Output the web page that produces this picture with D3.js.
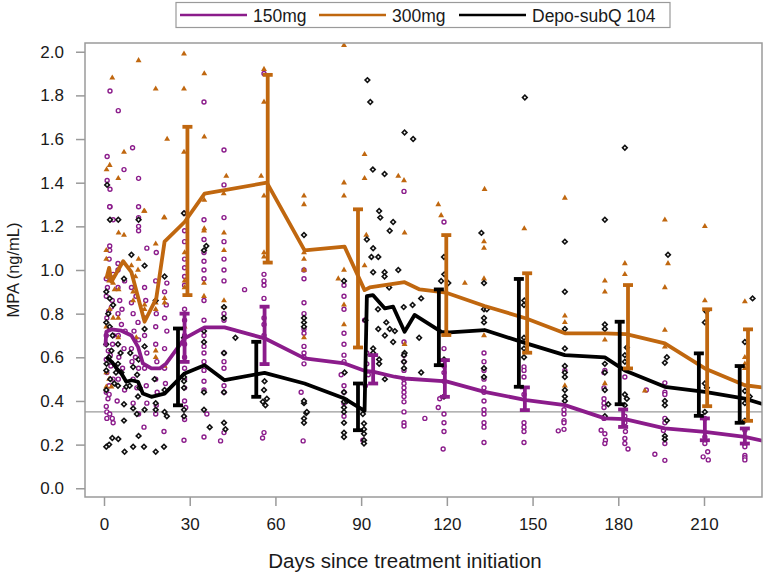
<!DOCTYPE html>
<html>
<head>
<meta charset="utf-8">
<script src="https://cdnjs.cloudflare.com/ajax/libs/d3/7.8.5/d3.min.js"></script>
<style>
  body { margin: 0; background: #fff; }
  svg text { font-family: "Liberation Sans", Arial, Helvetica, sans-serif; fill: #1a1a1a; }
</style>
</head>
<body>
<svg id="chart" width="767" height="573"></svg>
<script>
// ---- data (day, MPA ng/mL) ----
const groups = ["150mg", "300mg", "Depo-subQ 104"]
const colors = ["#8b1c8b", "#c0670f", "#000000"]
const xTicks = [0, 30, 60, 90, 120, 150, 180, 210]
const yTicks = [0, 0.2, 0.4, 0.6, 0.8, 1.0, 1.2, 1.4, 1.6, 1.8, 2.0]
const lloq = 0.35

const pts150 = [[2.1,1.82],[5,1.73],[10,1.56],[1.1,1.52],[7,1.46],[1.1,1.41],[12.1,1.42],[2.1,1.37],[2.1,1.29],[3.2,1.23],[12.1,1.20],
  [2,1.29],[2,1.11],[2,1.09],[1.8,1.05],[3.2,0.98],[4.9,1.03],[4.9,1.0],[7.2,0.95],[9.6,0.92],[12.1,1.29],[12.1,1.24],[12.1,1.18],[15,1.10],[18.3,1.08],[22,0.94],
  [0.8,0.96],[1.2,0.92],[0.8,0.88],[2.6,0.83],[1.0,0.78],[2.0,0.73],[0.8,0.70],[3.0,0.66],[1.5,0.63],[0.8,0.59],[2.4,0.56],[1.0,0.53],[3.2,0.50],[1.8,0.47],[0.8,0.44],[1.8,0.43],[0.8,0.375],[1,0.35],[1,0.32],[2,0.34],[2.9,0.32],[3.2,0.30],
  [2.9,0.86],[1.6,0.81],[3.3,0.70],[2.2,0.61],[1.4,0.41],
  [4.9,0.92],[5.5,0.86],[4.9,0.80],[6.1,0.75],[5.0,0.70],[7.0,0.64],[5.2,0.60],[6.5,0.55],[5.0,0.50],[7.2,0.45],[6.3,0.82],[7.4,0.72],[4.6,0.40],
  [9.6,0.85],[10.2,0.80],[11.9,0.76],[10.5,0.72],[12.1,0.68],[9.6,0.64],[11,0.60],[12.1,0.55],[10.2,0.50],[11.5,0.46],[10.2,0.39],[12.1,0.34],[9.8,0.58],[11.2,0.88],
  [14.2,0.92],[14.6,0.86],[14.2,0.78],[14.2,0.70],[15,0.62],[14.2,0.55],[15,0.39],[14,0.28],[14.8,0.47],
  [18.1,0.95],[18.3,0.80],[18.1,0.74],[18.1,0.66],[18.5,0.58],[18.1,0.50],[18.1,0.34],[18.3,0.38],[18.6,0.44],
  [21.2,0.90],[21.8,0.84],[21.2,0.78],[22,0.72],[21.2,0.64],[21.2,0.55],[21,0.26],[21.5,0.48],
  [28.2,1.26],[28.2,1.18],[28.2,1.13],[28.2,1.05],[28.2,1.01],[28.2,0.97],[28.2,0.93],[28.2,0.82],[28.2,0.77],[28.2,0.70],[28.2,0.66],[28.2,0.60],[28.2,0.55],[28.2,0.50],[28.2,0.46],[28.2,0.40],[28.6,0.37],[28.2,0.315],[28,0.22],
  [35,1.77],[35,1.23],[35,1.14],[35,1.08],[35,1.04],[35,1.00],[35,0.96],[35,0.86],[35,0.77],[35,0.70],[35,0.65],[35,0.62],[35,0.58],[35,0.54],[35,0.49],[35,0.45],[36,0.34],[35,0.235],
  [42,1.55],[42,1.39],[42,1.24],[42,1.13],[42,1.05],[42,1.00],[42,0.95],[42,0.80],[42,0.77],[42,0.62],[42,0.58],[42,0.55],[42,0.47],[42,0.44],[40.8,0.217],[42,0.255],
  [49.2,0.91],
  [56,1.90],[56,0.98],[56,0.95],[56,0.93],[56,0.87],[56,0.78],[56,0.75],[56,0.70],[56,0.255],[55.5,0.23],
  [70,1.00],[70,0.96],[70,0.85],[70,0.80],[70,0.73],[70,0.71],[70,0.65],[70,0.62],[70,0.60],[70,0.57],[69,0.44],[69.7,0.217],
  [84,0.93],[84,0.88],[84,0.82],[84,0.71],[84,0.66],[84,0.61],[84,0.58],[83,0.52],[84,0.47],[84,0.44],[84,0.39],[84,0.33],
  [91.2,0.77],[92,0.62],[92,0.57],[92.5,0.52],[91.5,0.47],[90.6,0.22],
  [105,1.36],[105,0.67],[105,0.61],[105,0.58],[105,0.54],[105,0.50],[105,0.48],[105,0.46],[105,0.44],[105,0.42],[105,0.396],[105,0.35],[105,0.30],[105,0.285],
  [112.3,0.32],[117,0.37],
  [119,1.22],[119,0.64],[119,0.56],[119,0.53],[119,0.49],[119,0.42],[117.5,0.41],[119,0.34],[119,0.30],[119,0.26],[118.7,0.18],
  [133,0.62],[133,0.58],[133,0.54],[133,0.50],[133,0.46],[133,0.44],[133,0.40],[133,0.36],[133,0.34],[133,0.30],[133,0.28],[133,0.21],
  [147,0.556],[147,0.54],[147,0.51],[147,0.43],[147,0.30],[147,0.28],[147,0.26],[147,0.21],
  [161.3,0.54],[161,0.36],[161,0.34],[161,0.31],[161,0.30],[161,0.27],[159,0.263],
  [175.3,0.54],[175,0.53],[175,0.46],[175,0.41],[175,0.39],[175,0.37],[175,0.32],[174,0.266],[175.3,0.25],[175.5,0.22],[175.3,0.205],
  [182.3,0.51],[182.3,0.33],[182.3,0.30],[182.5,0.26],[182.3,0.228],[182.3,0.205],[183.4,0.18],
  [189.8,0.45],[192.8,0.156],
  [196.3,0.483],[196.3,0.44],[196.3,0.43],[196.3,0.32],[196.3,0.30],[195.8,0.265],[196.3,0.205],[196.3,0.128],
  [210.3,0.32],[210.3,0.235],[210.3,0.205],[209.7,0.144],[211.5,0.13],[211.3,0.167],
  [224.3,0.266],[224.3,0.20],[224.3,0.19],[224.3,0.15],[224.3,0.14],[224.3,0.13]]

const pts300 = [[2.9,1.88],[12.1,1.96],[28,1.99],[18.1,1.83],[28,1.83],[35.1,1.90],[22.1,1.60],[35.1,1.61],[7,1.54],[2,1.48],[0.9,1.46],[5,1.42],[28,1.54],[42.8,1.43],[41.9,1.35],[14,1.27],[21,1.24],[35.1,1.32],[35.1,1.19],
  [0.8,1.05],[0.8,1.09],[5.1,1.17],[7,1.16],[12.1,1.05],[14.2,1.27],[18.1,1.12],[21.2,1.24],[35,1.18],[42,1.17],[42,1.09],[42,0.86],[42,0.83],[35,0.88],[35,0.94],[28.2,0.95],[28.2,0.92],[28.2,0.74],[28.2,1.08],[1.8,0.95],[3.2,0.94],[3.7,0.91],[5.1,0.91],[2,0.82],[3.2,0.78],[5,0.78],[9.6,1.02],[11.9,1.0],[10.2,0.90],[10.2,0.86],[11,0.97],[14.2,0.84],[14.2,0.82],[18.1,0.85],[18.1,0.82],[21.2,0.87],[21.2,0.85],[18.1,0.63],[18.1,0.60],[21.2,0.56],[11.3,0.69],[5,0.69],[0.8,0.74],[0.8,0.53],[1.8,0.50],[0.8,0.465],[2.6,0.465],
  [84,2.03],[56,1.92],[56,1.77],[55,1.43],[56,1.34],[70,1.34],[70,1.30],[84,1.40],[84,1.34],[91.2,1.53],[91.2,1.42],[103,1.43],[105,1.41],[117,1.30],[118,1.25],
  [56,1.08],[56,1.06],[70,1.08],[70,1.05],[70,1.0],[70,0.69],[84,1.0],[82,0.96],[84,0.84],[84,0.75],[91.8,1.16],[91.2,1.02],[105.2,1.17],[105.2,0.66],
  [133.2,1.37],[161.3,1.33],[147.1,1.19],[133,1.13],[133,1.10],[182.3,1.03],[182.3,0.98],[133,0.96],[126.3,0.94],[175.3,0.95],[175.3,0.90],[175.3,0.68],[161.3,0.79],[161.3,0.76],[161.3,0.47],[133,0.70],[196.3,0.92],[196.3,0.725],[196.3,0.648],[175.3,0.48],[189.3,0.446],[210.3,0.86],[224.3,0.855],[224.3,0.60],[224.3,0.57],[224.3,0.55],[197.4,1.03],[196.3,1.23],[210.3,1.20]]

const ptsQ = [[1.1,1.39],[2.1,1.23],[5,1.23],[12.1,1.23],[28,1.26],
  [9.6,1.07],[7,0.96],[0.8,0.90],[2,0.87],[3.2,0.84],[0.8,0.76],[2,0.74],[0.8,0.66],[4.9,0.66],[1.8,0.60],[4.9,0.57],[6.1,0.53],[0.8,0.54],[2.2,0.50],[7.8,0.465],[10.2,0.556],[12.1,0.59],[14.2,0.65],[14.2,0.73],[14.2,1.02],[18.1,0.86],[21.2,0.97],[17.7,0.50],[21.2,0.45],[35.8,1.11],[35,1.09],[42,0.83],[42,0.78],[42,0.62],[35,0.72],[35,0.67],[35,0.44],[42,0.44],[28,0.69],[28,0.51],[28,0.49],[28,0.46],[46,0.69],
  [1.5,0.80],[3.0,0.70],[2.6,0.63],[0.9,0.57],[5.8,0.62],[4.2,0.53],[9.2,0.62],[11.6,0.52],[12.4,0.46],[3.6,0.48],
  [0.8,0.19],[1.8,0.20],[2.9,0.23],[5,0.226],[7.2,0.167],[10.2,0.19],[12.1,0.24],[14,0.19],[18.1,0.167],[21,0.19],[7,0.385],[7,0.31],[10.2,0.366],[11.5,0.34],[14.2,0.36],[18.1,0.39],[18.1,0.36],[21.2,0.35],[22,0.33],[28,0.36],[28,0.33],[35,0.36],[37,0.28],[42,0.30],[42.5,0.27],[0.8,0.45],[4.9,0.47],[9,0.47],[11.9,0.42],
  [55.6,0.396],[56.5,0.38],[70,0.39],[70.8,0.345],[70,0.32],[70,0.30],[84,0.396],[84,0.37],[84,0.35],[84,0.30],[84,0.254],[84,0.235],[91,0.297],[91,0.25],[91,0.22],[91,0.205],
  [92.2,1.87],[93.2,1.77],[105.2,1.63],[108.2,1.60],[94.1,1.46],[98.2,1.44],[96.3,1.27],[96.7,1.24],[101.2,1.22],[100,1.18],[92,1.14],[94.2,1.10],[96,1.06],[93.6,1.06],[94.2,0.99],[98.2,0.99],[98.2,0.97],[103,1.0],[99.8,0.92],[111,0.87],[108,0.84],[104.9,0.83],[95.9,0.82],[91.5,0.77],[98.8,0.76],[96,0.73],[100,0.73],[101.8,0.72],[98.3,0.70],[110.3,0.69],[101.2,0.67],[94.2,0.64],[94.2,0.62],[105.2,0.62],[105,0.61],[96.3,0.59],[96.3,0.57],[105,0.58],[111,0.53],[98.3,0.50],[105,0.55],[90.6,0.34],[91,0.27],
  [70,1.16],[70,0.78],[70,0.76],[70,0.74],[84,0.95],[84.2,0.53],[84,0.44],[85,0.40],[56.2,0.49],[56,0.45],[57,0.41],[71,0.35],[70,0.40],[118,0.95],[119,1.06],
  [147.3,1.79],[182.3,1.56],[175.3,1.23],[132.1,1.17],[161.3,1.13],[119.1,0.98],[120.5,0.94],[133,0.94],[133,0.82],[134,0.82],[133,0.78],[133,0.76],[133,0.55],[133,0.51],[147.1,0.86],[147,0.84],[147,0.69],[147,0.64],[147,0.60],[161.3,0.90],[161.3,0.73],[161.3,0.64],[161.3,0.56],[161.3,0.53],[161.3,0.51],[161.3,0.45],[161.3,0.42],[161.3,0.40],[175.3,0.75],[175.3,0.73],[175.3,0.57],[175.3,0.53],[175.3,0.45],[176.5,0.385],[175.3,0.33],[119,0.59],[119,0.42],
  [183,0.645],[182.3,0.61],[182.3,0.58],[182.3,0.43],[183,0.41],[182.3,0.38],[196.3,0.575],[197,0.60],[196.3,0.40],[196.3,0.38],[197,0.31],[196.3,0.24],[196.3,0.225],[210.8,0.81],[210.3,0.76],[210.3,0.48],[211,0.46],[210.3,0.35],[224.3,0.67],[224.3,0.446],[226,0.42],[224.3,0.39],[224.3,0.31],[227,0.87],[197.4,1.07]]

// mean curves
const mean150 = [[0.5,0.65],[0.8,0.717],[2.6,0.728],[6.1,0.722],[9.6,0.70],[11.9,0.648],[13.6,0.572],[16.6,0.549],[19.5,0.549],[21.8,0.572],[28.2,0.687],[35.2,0.737],[42.2,0.737],[56.2,0.687],[70.2,0.595],[84.2,0.572],[91.2,0.538],[94.1,0.534],[101.7,0.511],[105.2,0.503],[119.8,0.490],[133.2,0.442],[147.8,0.404],[161.3,0.381],[175.3,0.32],[182.3,0.317],[196.3,0.274],[210.3,0.258],[224.3,0.235],[230.7,0.217]]
const mean300 = [[0.8,0.96],[1.8,1.01],[2.6,0.946],[6.7,1.04],[9.6,0.99],[14.2,0.763],[18.3,0.87],[21.2,1.13],[28.2,1.22],[35.2,1.35],[57,1.40],[70.2,1.09],[84.2,1.107],[91.2,0.908],[93,0.92],[105.2,0.944],[110.5,0.911],[119.8,0.896],[133.2,0.835],[147.8,0.778],[161.3,0.71],[175.3,0.71],[182.8,0.706],[196.3,0.664],[210.3,0.549],[224.3,0.472],[230.7,0.462]]
const meanQ = [[0.8,0.602],[2.0,0.587],[3.0,0.575],[4.4,0.549],[6.1,0.526],[7.8,0.488],[9.6,0.495],[11.9,0.488],[13.6,0.434],[16.6,0.419],[21.2,0.434],[28.2,0.526],[35.2,0.564],[42.2,0.495],[56.2,0.529],[70.2,0.48],[84.2,0.411],[91.2,0.355],[92.0,0.88],[94.1,0.885],[98.3,0.824],[101.2,0.832],[105.2,0.717],[108.7,0.794],[118.1,0.717],[121,0.714],[133.2,0.725],[147.8,0.664],[161.3,0.61],[175.3,0.60],[182.3,0.54],[196.3,0.465],[210.3,0.442],[224.3,0.411],[230.7,0.385]]

// error bars: day, low, high
const err150 = [[28.2,0.579,0.80],[56.2,0.569,0.832],[94.2,0.48,0.61],[119.3,0.419,0.587],[147.3,0.358,0.462],[181.7,0.281,0.361],[210.3,0.22,0.32],[224.3,0.205,0.274]]
const err300 = [[29.2,0.885,1.656],[57.3,1.034,1.894],[88.9,0.645,1.278],[119.8,0.702,1.16],[148.1,0.621,0.985],[183.4,0.549,0.931],[211.1,0.376,0.82],[225.4,0.309,0.728]]
const errQ = [[25.9,0.38,0.732],[53.3,0.419,0.671],[88.9,0.266,0.48],[117.2,0.564,0.911],[145.2,0.465,0.959],[180.5,0.385,0.763],[208.2,0.332,0.618],[222.5,0.30,0.56]]

// ---- layout ----
const svg = d3.select("#chart")
const plot = {left: 85, right: 762, top: 43, bottom: 497}

const x = d3.scaleLinear().domain([-6.65, 230.3]).range([plot.left, plot.right])
const y = d3.scaleLinear().domain([-0.04, 2.04]).range([plot.bottom, plot.top])

svg.append("defs").append("clipPath").attr("id", "clip")
  .append("rect")
  .attr("x", plot.left).attr("y", plot.top)
  .attr("width", plot.right - plot.left).attr("height", plot.bottom - plot.top)

const body = svg.append("g").attr("clip-path", "url(#clip)")

// reference line
body.append("line")
  .attr("x1", plot.left).attr("x2", plot.right)
  .attr("y1", y(lloq)).attr("y2", y(lloq))
  .attr("stroke", "#9a9a9a").attr("stroke-width", 1.2)

// scatter
body.append("g").selectAll("circle")
  .data(pts150).join("circle")
  .attr("cx", d => x(d[0])).attr("cy", d => y(d[1]))
  .attr("r", 2)
  .attr("fill", "#fff").attr("stroke", colors[0]).attr("stroke-width", 1.4)

const tri = d3.symbol().type(d3.symbolTriangle).size(15)
body.append("g").selectAll("path")
  .data(pts300).join("path")
  .attr("d", tri)
  .attr("transform", d => `translate(${x(d[0])},${y(d[1])})`)
  .attr("fill", colors[1])

const dia = d3.symbol().type(d3.symbolSquare).size(11)
body.append("g").selectAll("path")
  .data(ptsQ).join("path")
  .attr("d", dia)
  .attr("transform", d => `translate(${x(d[0])},${y(d[1])}) rotate(45)`)
  .attr("fill", "#fff").attr("stroke", "#111").attr("stroke-width", 1.6)

// mean lines
const line = d3.line().x(d => x(d[0])).y(d => y(d[1]))
const means = [mean300, mean150, meanQ]
const meanColors = [colors[1], colors[0], colors[2]]
means.forEach((m, i) => {
  body.append("path")
    .datum(m)
    .attr("d", line)
    .attr("fill", "none")
    .attr("stroke", meanColors[i])
    .attr("stroke-width", 3.8)
    .attr("stroke-linejoin", "round")
})

// error bars
const errs = [err300, err150, errQ]
errs.forEach((e, i) => {
  const g = body.append("g")
    .attr("stroke", meanColors[i])
    .attr("stroke-width", 3.8)
  g.selectAll(".v").data(e).join("line")
    .attr("x1", d => x(d[0])).attr("x2", d => x(d[0]))
    .attr("y1", d => y(d[1])).attr("y2", d => y(d[2]))
  g.selectAll(".lo").data(e).join("line")
    .attr("x1", d => x(d[0]) - 5).attr("x2", d => x(d[0]) + 5)
    .attr("y1", d => y(d[1])).attr("y2", d => y(d[1]))
  g.selectAll(".hi").data(e).join("line")
    .attr("x1", d => x(d[0]) - 5).attr("x2", d => x(d[0]) + 5)
    .attr("y1", d => y(d[2])).attr("y2", d => y(d[2]))
})

// frame + axes
svg.append("rect")
  .attr("x", plot.left).attr("y", plot.top)
  .attr("width", plot.right - plot.left).attr("height", plot.bottom - plot.top)
  .attr("fill", "none").attr("stroke", "#9a9a9a").attr("stroke-width", 1.5)

const xAxis = svg.append("g").attr("transform", `translate(0,${plot.bottom})`)
  .call(d3.axisBottom(x).tickValues(xTicks).tickSize(9).tickPadding(12))
const yAxis = svg.append("g").attr("transform", `translate(${plot.left},0)`)
  .call(d3.axisLeft(y).tickValues(yTicks).tickSize(9).tickPadding(12).tickFormat(d3.format(".1f")))
;[xAxis, yAxis].forEach(a => {
  a.select(".domain").remove()
  a.selectAll(".tick line").attr("stroke", "#9a9a9a").attr("stroke-width", 1.5)
  a.selectAll(".tick text").style("font-size", "17px").attr("fill", "#1a1a1a")
})

svg.append("text")
  .attr("x", 405).attr("y", 568)
  .attr("text-anchor", "middle").style("font-size", "20.5px")
  .text("Days since treatment initiation")

svg.append("text")
  .attr("transform", `translate(19,${(plot.top + plot.bottom) / 2}) rotate(-90)`)
  .attr("text-anchor", "middle").style("font-size", "16.5px")
  .text("MPA (ng/mL)")

// legend
const legend = svg.append("g")
legend.append("rect")
  .attr("x", 176).attr("y", 2.5).attr("width", 494).attr("height", 25)
  .attr("fill", "#fff").attr("stroke", "#9a9a9a").attr("stroke-width", 1.2)
const legX = [180, 319, 459]
groups.forEach((g, i) => {
  legend.append("line")
    .attr("x1", legX[i]).attr("x2", legX[i] + 67)
    .attr("y1", 15).attr("y2", 15)
    .attr("stroke", colors[i]).attr("stroke-width", 2.5)
  legend.append("text")
    .attr("x", legX[i] + 73).attr("y", 21.5)
    .style("font-size", "17.5px")
    .text(g)
})
</script>
</body>
</html>
